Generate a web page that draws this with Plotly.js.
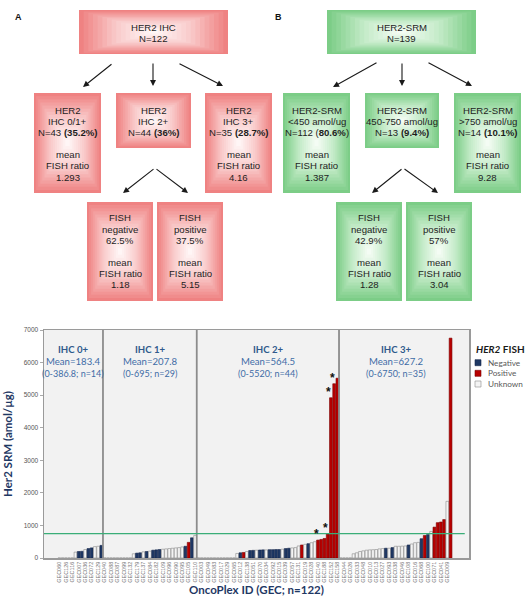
<!DOCTYPE html>
<html><head><meta charset="utf-8">
<script src="https://cdn.plot.ly/plotly-3.0.1.min.js"></script>
<style>html,body{margin:0;padding:0;background:#fff}</style>
</head><body><div id="chart" style="width:530px;height:600px"></div>
<script>
// ================= DATA =================
const groupNames  = ['IHC 0+', 'IHC 1+', 'IHC 2+', 'IHC 3+'];
const groupMeans  = ['Mean=183.4', 'Mean=207.8', 'Mean=564.5', 'Mean=627.2'];
const groupRanges = ['(0-386.8; n=14)', '(0-695; n=29)', '(0-5520; n=44)', '(0-6750; n=35)'];

const ids0 = ['GEC060','GEC052','GEC126','GEC063','GEC116','GEC021','GEC007','GEC045','GEC036','GEC101','GEC072','GEC118','GEC129','GEC014'];
const ids1 = ['GEC040','GEC011','GEC088','GEC025','GEC087','GEC066','GEC099','GEC119','GEC132','GEC043','GEC179','GEC058','GEC137','GEC030','GEC084','GEC069','GEC182','GEC024','GEC109','GEC077','GEC096','GEC031','GEC090','GEC113','GEC095','GEC047','GEC105','GEC055','GEC110'];
const ids2 = ['GEC020','GEC003','GEC001','GEC049','GEC042','GEC083','GEC091','GEC017','GEC136','GEC029','GEC117','GEC065','GEC102','GEC012','GEC080','GEC138','GEC133','GEC051','GEC121','GEC070','GEC123','GEC034','GEC002','GEC092','GEC134','GEC015','GEC089','GEC039','GEC106','GEC057','GEC078','GEC131','GEC143','GEC019','GEC141','GEC028','GEC062','GEC140','GEC022','GEC188','GEC004','GEC152','GEC124','GEC158'];
const ids3 = ['GEC006','GEC044','GEC005','GEC026','GEC035','GEC033','GEC037','GEC048','GEC086','GEC010','GEC059','GEC013','GEC074','GEC027','GEC150','GEC093','GEC103','GEC038','GEC018','GEC046','GEC085','GEC108','GEC053','GEC016','GEC146','GEC068','GEC067','GEC100','GEC050','GEC071','GEC120','GEC041','GEC149','GEC009','GEC144'];

const srm0 = [0,0,0,0,0,180,200,205,260,290,310,350,360,386.8];
const srm1 = [0,0,0,0,0,0,0,0,0,130,150,160,190,200,210,240,250,260,270,280,290,300,310,320,340,360,480,620,695];
const srm2 = [0,0,0,0,0,0,0,0,0,0,0,0,140,160,170,200,230,235,240,245,250,250,255,255,260,260,270,290,300,310,320,370,400,420,440,470,500,550,570,600,740,4920,5350,5520];
const srm3 = [0,0,0,0,130,160,200,220,240,250,255,260,280,290,300,300,320,360,360,365,370,400,430,470,480,592,690,720,815,948,1085,1105,1180,1740,6750];

const fish0 = ['U','U','U','U','U','U','N','N','U','N','N','U','U','N'];
const fish1 = ['U','U','U','U','U','U','U','U','U','U','N','N','U','N','U','N','N','N','U','U','U','U','U','U','U','N','P','N','U'];
const fish2 = ['U','U','U','U','U','U','U','U','U','U','U','U','U','N','P','U','N','N','U','N','N','U','N','N','N','N','U','N','N','U','U','U','P','U','N','U','U','P','P','P','P','P','P','P'];
const fish3 = ['U','U','U','U','U','U','U','U','U','U','U','U','U','U','N','U','N','U','U','U','U','N','U','U','U','N','P','N','U','P','P','P','P','U','P'];

const starredIds = ['GEC140','GEC004','GEC152','GEC124'];
const threshold = 750;
const legendNames = {N:'Negative', P:'Positive', U:'Unknown'};

const flowA_top  = ['HER2 IHC','N=122'];
const flowA_mid  = [
  ['HER2','IHC 0/1+','N=43 <b>(35.2%)</b>','','mean','FISH ratio','1.293'],
  ['HER2','IHC 2+','N=44 <b>(36%)</b>'],
  ['HER2','IHC 3+','N=35 <b>(28.7%)</b>','','mean','FISH ratio','4.16']
];
const flowA_bot  = [
  ['FISH','negative','62.5%','','mean','FISH ratio','1.18'],
  ['FISH','positive','37.5%','','mean','FISH ratio','5.15']
];
const flowB_top  = ['HER2-SRM','N=139'];
const flowB_mid  = [
  ['HER2-SRM','&lt;450 amol/ug','N=112 (<b>80.6%</b>)','','mean','FISH ratio','1.387'],
  ['HER2-SRM','450-750 amol/ug','N=13 <b>(9.4%)</b>'],
  ['HER2-SRM','&gt;750 amol/ug','N=14 <b>(10.1%)</b>','','mean','FISH ratio','9.28']
];
const flowB_bot  = [
  ['FISH','negative','42.9%','','mean','FISH ratio','1.28'],
  ['FISH','positive','57%','','mean','FISH ratio','3.04']
];

// ================= BUILD =================
const ids  = [...ids0, ...ids1, ...ids2, ...ids3];
const srm  = [...srm0, ...srm1, ...srm2, ...srm3];
const fish = [...fish0, ...fish1, ...fish2, ...fish3];
const sizes = [ids0.length, ids1.length, ids2.length, ids3.length];
const pos = ids.map((_, i) => i);

const fishColor = {N:'#1F3864', P:'#B80000', U:'#F4F4F4'};
const fishLine  = {N:'#14254a', P:'#7a0000', U:'#8a8a8a'};

const traces = [{
  type:'bar', name:'Her2 SRM', x: pos, y: srm, text: ids, width: 0.86,
  marker:{color: fish.map(s => fishColor[s]), line:{color: fish.map(s => fishLine[s]), width:0.6}},
  showlegend:false, hoverinfo:'text+y', textposition:'none'
}];

const W = 530, H = 600;
const px = v => v / W, py = v => 1 - v / H;
const annotations = [];
const shapes = [];

// ----- flowchart (paper coordinates in pixels) -----
const pinkStops  = [[0,[239,130,130]],[0.5,[249,202,202]],[1,[255,246,246]]];
const greenStops = [[0,[124,205,135]],[0.5,[196,235,200]],[1,[244,252,244]]];
function interp(stops, t){
  for (let i = 1; i < stops.length; i++){
    if (t <= stops[i][0]){
      const a = stops[i-1], b = stops[i], f = (t - a[0]) / (b[0] - a[0]);
      const c = a[1].map((v,k) => Math.round(v + (b[1][k]-v)*f));
      return 'rgb(' + c.join(',') + ')';
    }
  }
  return 'rgb(' + stops[stops.length-1][1].join(',') + ')';
}
const boxesA = {top:[79,228,10,54], mid:[[34,101,93,193],[116,191,93,148],[205,272,93,193]], bot:[[87,153,202,301],[157,223,202,301]]};
const boxesB = {top:[327,476,10,54], mid:[[283,350,93,193],[365,439,93,148],[454,521,93,193]], bot:[[336,402,202,301],[406,472,202,301]]};
const fontFlow = {family:'Liberation Sans, Arial, sans-serif', size:9.6, color:'#1e1e1e'};
const STEPS = 16;
function addBox(b, stops){
  const cx = (b[0]+b[1])/2, cy = (b[2]+b[3])/2, hw = (b[1]-b[0])/2, hh = (b[3]-b[2])/2;
  for (let k = 0; k < STEPS; k++){
    const s = 1 - k / STEPS;
    shapes.push({type:'rect', xref:'paper', yref:'paper',
      x0:px(cx - hw*s), x1:px(cx + hw*s), y0:py(cy + hh*s), y1:py(cy - hh*s),
      fillcolor: interp(stops, k/(STEPS-1)), line:{width:0}});
  }
}
function addLines(b, lines, firstY, step){
  const cx = (b[0]+b[1])/2;
  lines.forEach((t,k) => {
    if (!t) return;
    annotations.push({xref:'paper', yref:'paper', x:px(cx), y:py(firstY + k*step), text:t,
      showarrow:false, xanchor:'center', yanchor:'middle', font:fontFlow});
  });
}
function buildFlow(boxes, top, mid, bot, stops){
  addBox(boxes.top, stops); addLines(boxes.top, top, 27, 11.2);
  boxes.mid.forEach((b,i) => { addBox(b, stops); addLines(b, mid[i], 110, 11.2); });
  boxes.bot.forEach((b,i) => { addBox(b, stops); addLines(b, bot[i], 218, 11.1); });
}
buildFlow(boxesA, flowA_top, flowA_mid, flowA_bot, pinkStops);
buildFlow(boxesB, flowB_top, flowB_mid, flowB_bot, greenStops);

const arrows = [
  [113,63,83,87],[153,62,153,86],[178,63,223,86],[155,168,123,193],[155,168,188,193],
  [378,62,333,87],[402,62,402,86],[427,62,472,86],[403,168,372,193],[403,168,438,193]
];
arrows.forEach(a => annotations.push({xref:'paper', yref:'paper',
  x:px(a[2]), y:py(a[3]), ax:a[0]-a[2], ay:a[1]-a[3], text:'', showarrow:true,
  arrowhead:2, arrowsize:1.1, arrowwidth:1.1, arrowcolor:'#1a1a1a'}));

annotations.push({xref:'paper', yref:'paper', x:px(13), y:py(10), text:'<b>A</b>', showarrow:false, font:{family:'Liberation Sans, Arial', size:9, color:'#111'}});
annotations.push({xref:'paper', yref:'paper', x:px(278), y:py(10), text:'<b>B</b>', showarrow:false, font:{family:'Liberation Sans, Arial', size:9, color:'#111'}});

// ----- bar chart -----
const xLeft = -4.74, xRight = 126.7;
const bounds = []; let acc = 0;
sizes.forEach((n,i) => { acc += n; if (i < sizes.length-1) bounds.push(acc - 0.5); });
const centers = [ (xLeft + bounds[0])/2, (bounds[0]+bounds[1])/2, (bounds[1]+bounds[2])/2, (bounds[2] + ids.length - 0.5)/2 ];
const hdrFont = 'Lato, Carlito, sans-serif';
centers.forEach((c,i) => {
  annotations.push({xref:'x', yref:'y', x:c, y:6411, text:'<b>'+groupNames[i]+'</b>', showarrow:false, yanchor:'middle', font:{family:hdrFont, size:9.6, color:'#2F5A8C'}});
  annotations.push({xref:'x', yref:'y', x:c, y:6043, text:groupMeans[i], showarrow:false, yanchor:'middle', font:{family:hdrFont, size:9.6, color:'#3E6CA6'}});
  annotations.push({xref:'x', yref:'y', x:c, y:5675, text:groupRanges[i], showarrow:false, yanchor:'middle', font:{family:hdrFont, size:9, color:'#3E6CA6'}});
});

starredIds.forEach(id => {
  const i = ids.indexOf(id);
  annotations.push({xref:'x', yref:'y', x:pos[i], y:srm[i], text:'<b>*</b>', showarrow:false,
    yanchor:'bottom', xshift:-2, yshift:-3, font:{family:'Liberation Sans, Arial', size:12, color:'#111'}});
});

// custom legend
const legY = [362.7, 373.3, 384];
annotations.push({xref:'paper', yref:'paper', x:px(474), y:py(349), xanchor:'left', yanchor:'middle',
  text:'<b><i>HER2</i> FISH</b>', showarrow:false, font:{family:hdrFont, size:10, color:'#1a1a1a'}});
['N','P','U'].forEach((s,k) => {
  shapes.push({type:'rect', xref:'paper', yref:'paper', x0:px(475), x1:px(481),
    y0:py(legY[k]+3), y1:py(legY[k]-3), fillcolor:fishColor[s], line:{color:fishLine[s], width:0.6}});
  annotations.push({xref:'paper', yref:'paper', x:px(486), y:py(legY[k]), xanchor:'left', yanchor:'middle',
    text:legendNames[s], showarrow:false, font:{family:hdrFont, size:8.2, color:'#595959'}});
});

shapes.push({type:'rect', xref:'x domain', yref:'y domain', x0:0, x1:1, y0:0, y1:1, fillcolor:'#F2F2F2', line:{width:0}, layer:'below'});
bounds.forEach(b => shapes.push({type:'line', xref:'x', yref:'y domain', x0:b, x1:b, y0:0, y1:1, line:{color:'#8C8C8C', width:1.8}}));
shapes.push({type:'line', xref:'x domain', yref:'y', x0:0, x1:0.99, y0:threshold, y1:threshold, line:{color:'#3AAE78', width:1.2}});

const tickIdx = pos.filter(i => i % 2 === 0);
const layout = {
  width:W, height:H, margin:{l:0,r:0,t:0,b:0},
  paper_bgcolor:'#ffffff', plot_bgcolor:'rgba(0,0,0,0)',
  showlegend:false,
  xaxis:{domain:[44/W, 469/W], anchor:'y', type:'linear', range:[xLeft, xRight],
    tickmode:'array', tickvals: tickIdx, ticktext: tickIdx.map(i => ids[i]), tickangle:-90,
    tickfont:{family:'Liberation Sans, Arial', size:5.5, color:'#777'},
    showline:true, mirror:true, linecolor:'#9a9a9a', linewidth:1.5, ticks:'', showgrid:false, zeroline:false,
    automargin:false,
    title:{text:'<b>OncoPlex ID (GEC; n=122)</b>', standoff:4, font:{family:hdrFont, size:11.5, color:'#1F3864'}}},
  yaxis:{domain:[1-558/H, 1-330/H], anchor:'x', range:[0,7000], dtick:1000, tick0:0,
    tickfont:{family:'Liberation Sans, Arial', size:6.5, color:'#555'},
    showline:true, mirror:true, linecolor:'#9a9a9a', linewidth:1.5, ticks:'outside', ticklen:3, tickcolor:'#aaa',
    showgrid:false, zeroline:false, automargin:false,
    title:{text:'<b>Her2 SRM (amol/µg)</b>', standoff:8, font:{family:hdrFont, size:11.5, color:'#1F3864'}}},
  annotations: annotations, shapes: shapes
};

Plotly.newPlot('chart', traces, layout, {displayModeBar:false, staticPlot:true});
</script></body></html>
